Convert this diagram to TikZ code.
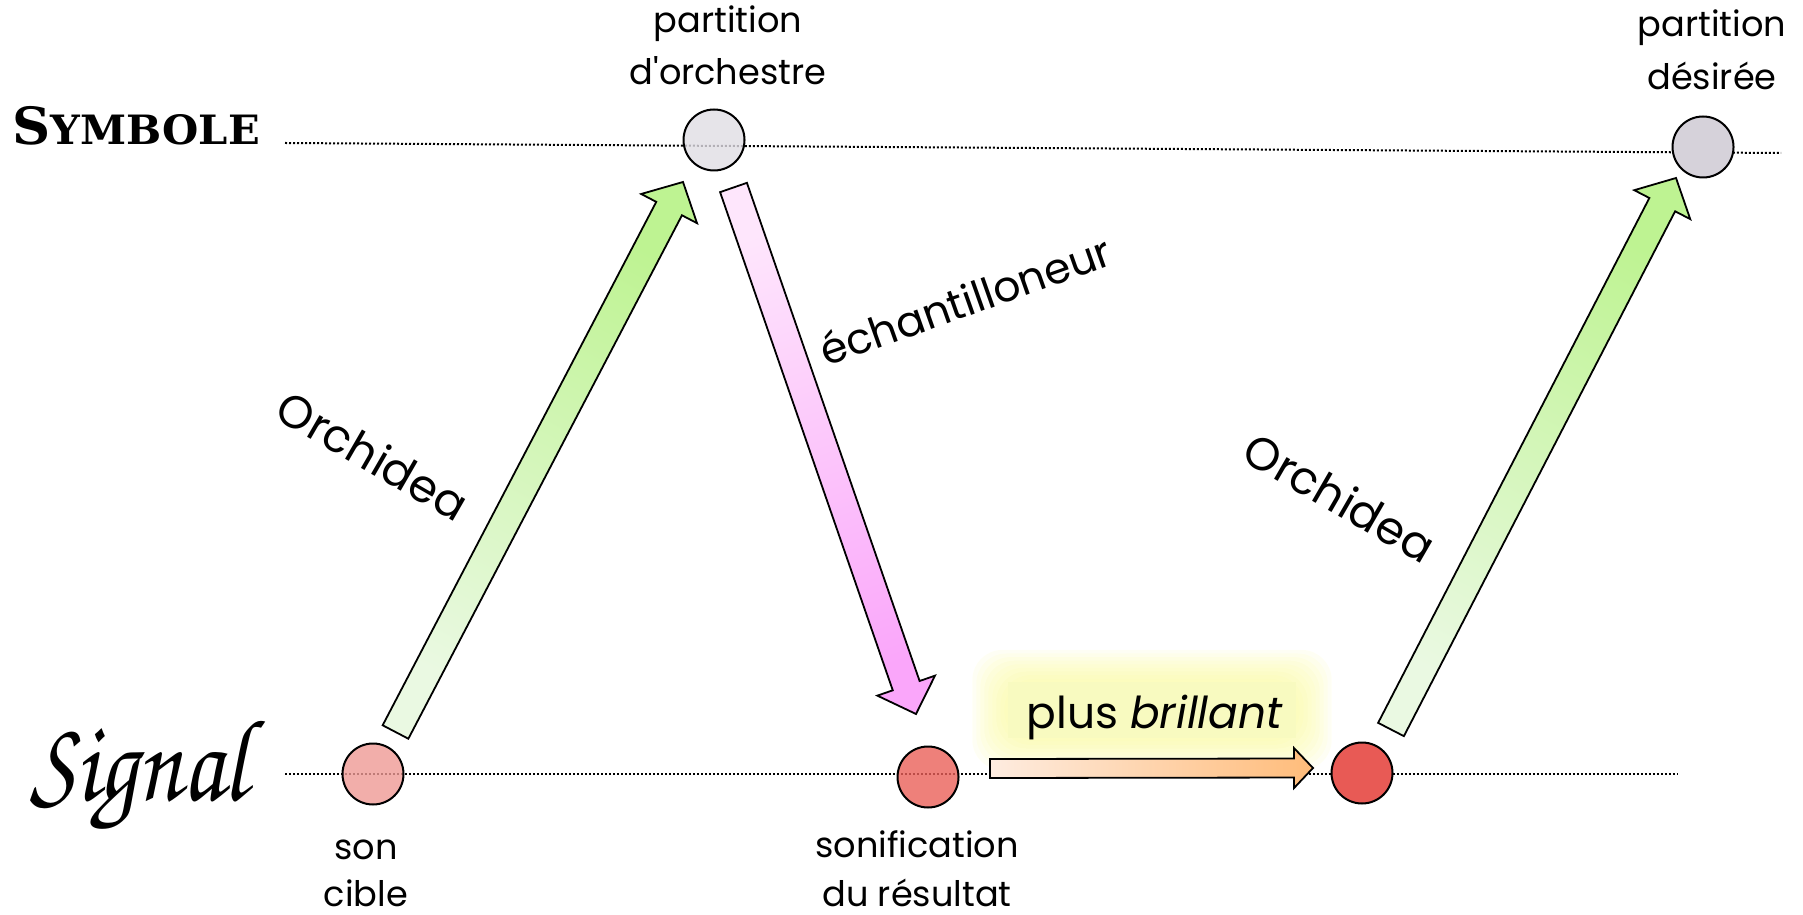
\documentclass[tikz,border=0pt]{standalone}
\usepackage[T1]{fontenc}
\usepackage{fontspec}
\setmainfont{Poppins}
\newfontfamily\symfont{DejaVu Serif}
\usetikzlibrary{calc}
\definecolor{symA}{RGB}{224,221,228}
\definecolor{symB}{RGB}{214,210,218}
\definecolor{sigA}{RGB}{239,154,149}
\definecolor{sigB}{RGB}{234,96,89}
\definecolor{sigC}{RGB}{232,90,85}
\definecolor{greenTail}{RGB}{234,249,226}
\definecolor{greenHead}{RGB}{190,243,146}
\definecolor{pinkTail}{RGB}{254,230,252}
\definecolor{pinkHead}{RGB}{250,166,250}
\definecolor{orTail}{RGB}{254,236,224}
\definecolor{orHead}{RGB}{255,188,122}
\definecolor{glowY}{RGB}{250,250,150}
\definecolor{boxY}{RGB}{248,250,192}
\tikzset{
  dotline/.style={line width=0.2mm, dash pattern=on 0.2mm off 0.2mm},
  circ/.style={circle, draw=black, line width=0.2mm, minimum size=6.1mm, inner sep=0pt},
  lbl/.style={inner sep=0pt, anchor=base, font=\fontsize{10pt}{12pt}\selectfont},
  biglbl/.style={inner sep=0pt, font=\fontsize{13pt}{15pt}\selectfont},
  fat/.style={draw=black, line width=0.18mm, line join=miter},
}
% tail, tip, shaft half width, head half width, head length, options
\newcommand{\fatarrow}[6]{%
  \coordinate (fa-h) at ($(#2)!#5!(#1)$);
  \path[fat,#6] ($(#1)!#3!90:(#2)$) -- ($(fa-h)!#3!90:(#2)$) -- ($(fa-h)!#4!90:(#2)$)
    -- (#2) -- ($(fa-h)!#4!-90:(#2)$) -- ($(fa-h)!#3!-90:(#2)$) -- ($(#1)!#3!-90:(#2)$) -- cycle;}
\newcommand{\straightquote}{\XeTeXglyph\XeTeXcharglyph"0027\relax}
\begin{document}
\begin{tikzpicture}[x=0.1mm,y=-0.1mm]
\useasboundingbox (0,0) rectangle (1803,915);
% axes
\coordinate (symL) at (285,143);
\coordinate (symR) at (1781,153);
\coordinate (sigL) at (285,774);
\coordinate (sigR) at (1678,774);
\draw[dotline] (symL) -- (symR);
\draw[dotline] (sigL) -- (sigR);
\node[anchor=base west, inner sep=0pt] (symbole) at (12,145)
  {\scalebox{1.03}[1]{\symfont\bfseries\fontsize{14.6pt}{14pt}\selectfont S\fontsize{11.5pt}{14pt}\selectfont YMBOLE}};
\node[anchor=base west, inner sep=0pt] (signal) at (30,800)
  {\scalebox{1}[1.2]{\resizebox{21.6mm}{!}{\fontencoding{T1}\fontfamily{pzc}\fontseries{mb}\fontshape{it}\fontsize{32pt}{32pt}\selectfont Signal}}};
% states
\node[circ, fill=symA, fill opacity=0.8] (c1) at (714,140) {};
\node[circ, fill=symB] (c2) at (1703,147) {};
\node[circ, fill=sigA, fill opacity=0.8] (c3) at (373,774) {};
\node[circ, fill=sigB, fill opacity=0.8] (c4) at (928,777) {};
\node[circ, fill=sigC] (c5) at (1362,773) {};
% labels
\node[lbl] (t1a) at (728,33) {partition};
\node[lbl] (t1b) at (728,85) {d\straightquote orchestre};
\node[lbl] (t2a) at (1712,37) {partition};
\node[lbl] (t2b) at (1712,90) {désirée};
\node[lbl] (t3a) at (366,859) {son};
\node[lbl] (t3b) at (366,906) {cible};
\node[lbl] (t4a) at (917,857) {sonification};
\node[lbl] (t4b) at (917,906) {du résultat};
% glow box
\node[minimum width=28.6mm, minimum height=5.4mm, inner sep=0pt] (pbox) at (1152,710) {};
\foreach \i in {1,...,9}{
  \fill[glowY, opacity=0.1, rounded corners=3mm]
    ($(pbox.north west)+(-\i*4,-\i*3.6)$) rectangle ($(pbox.south east)+(\i*4,\i*3.6)$);
}
\fill[boxY] (pbox.north west) rectangle (pbox.south east);
\node[inner sep=0pt, anchor=base, font=\fontsize{12.5pt}{14pt}\selectfont] (pbtxt) at (1155,728) {plus \textit{brillant}};
% arrows
\coordinate (g1s) at ($(c3)+(22.5,-42)$);
\coordinate (g1e) at ($(c1)+(-31,42)$);
\coordinate (p1s) at ($(c1)+(19.5,47.5)$);
\coordinate (p1e) at ($(c4)+(-12,-63)$);
\coordinate (g2s) at ($(c5)+(29,-43.5)$);
\coordinate (g2e) at ($(c2)+(-27,31)$);
\coordinate (o1s) at ($(c4)+(62,-8.5)$);
\coordinate (o1e) at ($(c5)+(-49,-5)$);
\fatarrow{g1s}{g1e}{1.45mm}{3.15mm}{3mm}{top color=greenHead, bottom color=greenTail, shading angle=-27.6}
\fatarrow{g2s}{g2e}{1.45mm}{3.15mm}{3mm}{top color=greenHead, bottom color=greenTail, shading angle=-27.3}
\fatarrow{p1s}{p1e}{1.42mm}{3.05mm}{3mm}{top color=pinkTail, bottom color=pinkHead, shading angle=19.1}
\fatarrow{o1s}{o1e}{0.95mm}{2mm}{1.9mm}{left color=orTail, right color=orHead}
% arrow labels
\node[biglbl, rotate=-30] (orch1) at (373,455) {Orchidea};
\node[biglbl, rotate=-30] (orch2) at (1340,497) {Orchidea};
\node[biglbl, rotate=19.5, font=\fontsize{12.1pt}{15pt}\selectfont] (echant) at (965,300) {échantilloneur};
\end{tikzpicture}
\end{document}
